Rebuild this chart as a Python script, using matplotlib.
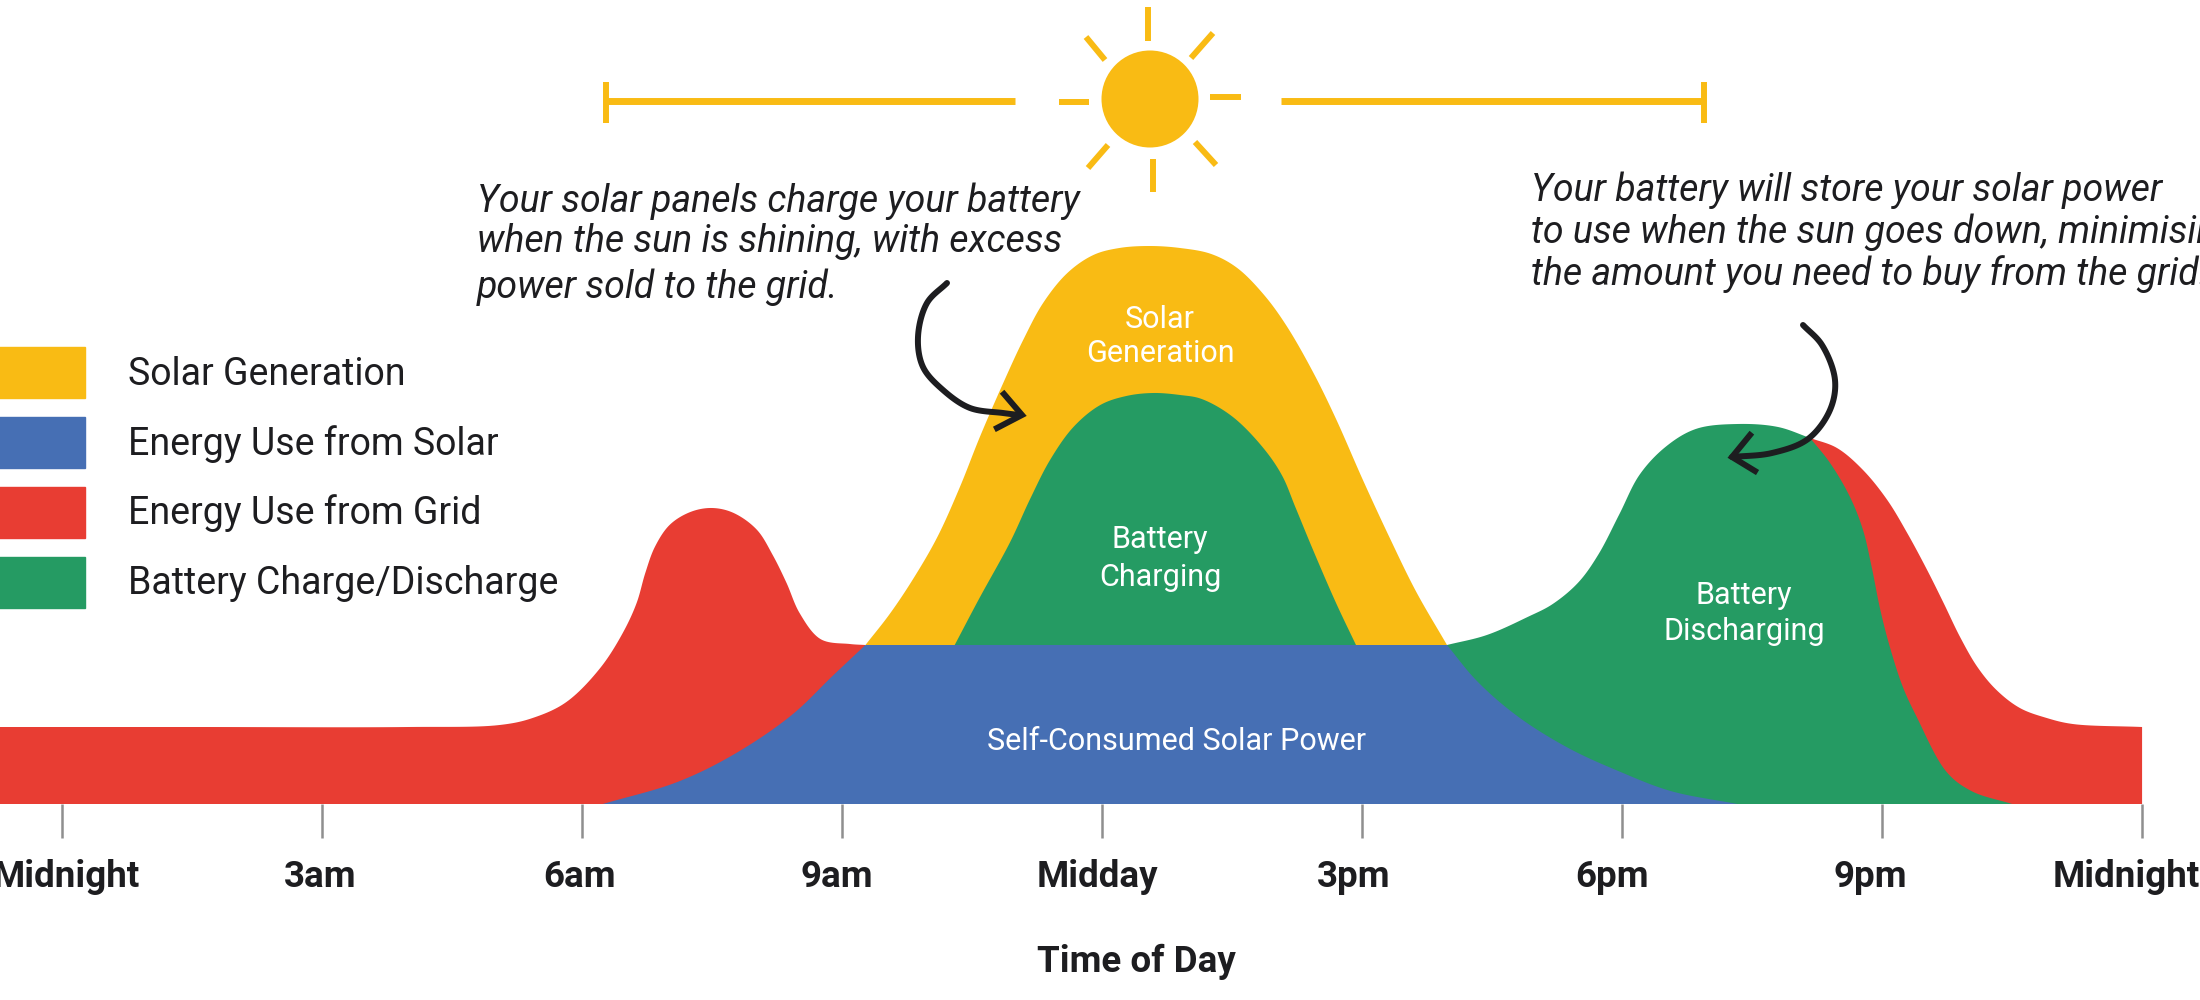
import numpy as np
import matplotlib
matplotlib.use('Agg')
import matplotlib.pyplot as plt
from matplotlib.patches import Circle, Patch
from matplotlib.transforms import ScaledTranslation

plt.rcParams['font.family'] = ['Roboto', 'DejaVu Sans']

################# values, hour of day vs power #########################

grid_am_h = [-1, 1.5, 4.0, 5.05, 5.43, 5.82, 6.21, 6.47, 6.63, 6.73, 6.84, 7.01, 7.25, 7.50, 7.75, 8.02, 8.20, 8.36, 8.51, 8.75, 9.09, 9.27]
grid_am_kw = [0.77, 0.77, 0.77, 0.79, 0.86, 1.02, 1.36, 1.71, 2.01, 2.31, 2.57, 2.79, 2.92, 2.96, 2.91, 2.74, 2.49, 2.21, 1.91, 1.65, 1.60, 1.59]

solar_up_h = [6.24, 7.10, 7.76, 8.42, 8.89, 9.27]
solar_up_kw = [0.0, 0.22, 0.50, 0.89, 1.28, 1.59]
solar_down_h = [15.98, 16.32, 16.79, 17.38, 17.97, 18.56, 19.33]
solar_down_kw = [1.59, 1.235, 0.88, 0.56, 0.325, 0.13, 0.0]

gen_h = [9.27, 9.55, 9.82, 10.10, 10.36, 10.59, 10.86, 11.09, 11.32, 11.60, 11.90, 12.20, 12.55, 12.90, 13.26, 13.56, 13.87, 14.13, 14.44, 14.70, 15.01, 15.32, 15.62, 15.98]
gen_kw = [1.59, 1.90, 2.25, 2.67, 3.17, 3.67, 4.21, 4.64, 5.01, 5.31, 5.49, 5.56, 5.58, 5.56, 5.50, 5.36, 5.09, 4.78, 4.31, 3.85, 3.24, 2.66, 2.13, 1.59]

charge_h = [10.30, 10.58, 10.94, 11.17, 11.40, 11.67, 11.98, 12.28, 12.59, 12.90, 13.15, 13.51, 13.87, 14.08, 14.23, 14.43, 14.70, 14.93]
charge_kw = [1.59, 2.05, 2.62, 3.05, 3.44, 3.77, 3.99, 4.08, 4.11, 4.09, 4.05, 3.87, 3.55, 3.28, 2.97, 2.55, 2.01, 1.59]

discharge_h = [15.98, 16.44, 16.91, 17.20, 17.50, 17.73, 17.97, 18.20, 18.50, 18.85, 19.33, 19.80, 20.17]
discharge_kw = [1.59, 1.69, 1.87, 2.00, 2.22, 2.50, 2.90, 3.29, 3.57, 3.75, 3.80, 3.77, 3.66]
discharge_end_h = [20.17, 20.40, 20.63, 20.78, 20.88, 20.98, 21.09, 21.24, 21.40, 21.74, 22.03, 22.50]
discharge_end_kw = [3.66, 3.41, 3.07, 2.74, 2.37, 1.94, 1.57, 1.17, 0.87, 0.325, 0.13, 0.0]

grid_pm_h = [20.17, 20.48, 20.78, 21.06, 21.29, 21.52, 21.71, 21.90, 22.10, 22.32, 22.59, 22.90, 23.20, 24.0]
grid_pm_kw = [3.66, 3.56, 3.34, 3.04, 2.71, 2.34, 2.01, 1.67, 1.37, 1.14, 0.96, 0.86, 0.80, 0.77]

tick_hours = [0, 3, 6, 9, 12, 15, 18, 21, 24]
tick_names = ['Midnight', '3am', '6am', '9am', 'Midday', '3pm', '6pm', '9pm', 'Midnight']
tick_shift = [4, -2, -3, -5, -5, -8, -10, -12, -16]

legend_names = ['Solar Generation', 'Energy Use from Solar', 'Energy Use from Grid', 'Battery Charge/Discharge']

YELLOW = '#F9BB14'
BLUE = '#466FB4'
RED = '#E83D33'
GREEN = '#259B63'
INK = '#1d1d20'


# centripetal hermite spline through the read points, so the humps stay round
def smooth(xs, ys, n=14):
    p = np.column_stack([xs, ys]).astype(float)
    t = np.r_[0, np.cumsum(np.hypot(*np.diff(p, axis=0).T) ** 0.5)]
    m = np.gradient(p, t, axis=0, edge_order=1)
    out = []
    for i in range(len(p) - 1):
        d = t[i + 1] - t[i]
        s = np.linspace(0, 1, n, endpoint=False)[:, None]
        out.append((2 * s ** 3 - 3 * s ** 2 + 1) * p[i] + (s ** 3 - 2 * s ** 2 + s) * d * m[i]
                   + (-2 * s ** 3 + 3 * s ** 2) * p[i + 1] + (s ** 3 - s ** 2) * d * m[i + 1])
    out.append(p[-1][None, :])
    return np.vstack(out)


fig = plt.figure(figsize=(22, 10), dpi=100)
ax = fig.add_axes([0, 0, 1, 1])
ax.set_xlim((0 - 62) / 86.67, (2200 - 62) / 86.67)
ax.set_ylim(-1.96, 8.04)
for s in ['top', 'left', 'right', 'bottom']:
    ax.spines[s].set_visible(False)
ax.spines['bottom'].set_position(('data', 0))
ax.patch.set_visible(False)
ax.set_yticks([])

# areas, back to front
curve = smooth(grid_am_h, grid_am_kw)
ax.fill(np.r_[curve[:, 0], curve[-1, 0], curve[0, 0]], np.r_[curve[:, 1], 0, 0], color=RED, lw=0)

curve = smooth(grid_pm_h, grid_pm_kw)
ax.fill(np.r_[curve[:, 0], curve[-1, 0], curve[0, 0]], np.r_[curve[:, 1], 0, 0], color=RED, lw=0)

curve = smooth(gen_h, gen_kw)
ax.fill(curve[:, 0], curve[:, 1], color=YELLOW, lw=0)

curve = smooth(charge_h, charge_kw)
ax.fill(curve[:, 0], curve[:, 1], color=GREEN, lw=0)

top = smooth(discharge_h, discharge_kw)
end = smooth(discharge_end_h, discharge_end_kw)
ax.fill(np.r_[top[:, 0], end[:, 0], top[0, 0]], np.r_[top[:, 1], end[:, 1], 0], color=GREEN, lw=0)

up = smooth(solar_up_h, solar_up_kw)
down = smooth(solar_down_h, solar_down_kw)
ax.fill(np.r_[up[:, 0], down[:, 0]], np.r_[up[:, 1], down[:, 1]], color=BLUE, lw=0)

# ticks hang below the zero line
ax.set_xticks(tick_hours)
ax.set_xticklabels(tick_names, fontsize=26.5, fontweight='bold', color=INK)
ax.tick_params(axis='x', length=24.5, width=1.8, color='#8f8f8f', pad=15)
for lab, dx in zip(ax.get_xticklabels(), tick_shift):
    lab.set_transform(lab.get_transform() + ScaledTranslation(dx / 100, 0, fig.dpi_scale_trans))
ax.set_xlabel('Time of Day', fontsize=26.5, fontweight='bold', color=INK)
ax.xaxis.set_label_coords(1136 / 2200, 1 - 962 / 1000)
ax.xaxis.label.set_va('center')

handles = [Patch(color=c) for c in [YELLOW, BLUE, RED, GREEN]]
fs = 27
ax.legend(handles, legend_names, loc='upper left', frameon=False,
          bbox_to_anchor=(-5 / 2200, 1 - 347 / 1000), bbox_transform=fig.transFigure,
          fontsize=fs, borderpad=0, borderaxespad=0, labelcolor=INK,
          handlelength=64.8 / fs, handleheight=1.72, handletextpad=1.15, labelspacing=0.5)

# overlay in canvas units for the sun, the notes and the arrows
deco = fig.add_axes([0, 0, 1, 1])
deco.set_xlim(0, 2200)
deco.set_ylim(1000, 0)
deco.axis('off')

deco.add_patch(Circle((1150, 99), 48.5, color=YELLOW, lw=0))
rays = [((1148, 7), (1148, 41)), ((1191, 58), (1213, 33)), ((1105, 60), (1086, 37)),
        ((1195, 142), (1216, 165)), ((1108, 145), (1088, 168)), ((1153, 159), (1153, 192)),
        ((1059, 102), (1089, 102)), ((1210, 97), (1241, 97))]
for a, b in rays:
    deco.plot([a[0], b[0]], [a[1], b[1]], color=YELLOW, lw=4.3, solid_capstyle='butt')

for x0, x1 in [(606, 1015), (1281, 1704)]:
    deco.plot([x0, x1], [101, 101], color=YELLOW, lw=5, solid_capstyle='butt')
for x in [606, 1704]:
    deco.plot([x, x], [82, 123], color=YELLOW, lw=4.3, solid_capstyle='butt')

note_font = dict(fontsize=27, style='italic', color=INK, va='center', ha='left', clip_on=False)
for y, line in zip([201, 241, 287], ['Your solar panels charge your battery',
                                     'when the sun is shining, with excess',
                                     'power sold to the grid.']):
    deco.text(477, y, line, **note_font)
for y, line in zip([190, 232, 274], ['Your battery will store your solar power',
                                     'to use when the sun goes down, minimising',
                                     'the amount you need to buy from the grid.']):
    deco.text(1531, y, line, **note_font)

inner = dict(fontsize=22, color='white', ha='center', va='center')
deco.text(1160, 319, 'Solar', **inner)
deco.text(1160, 354, 'Generation', **inner)
deco.text(1160, 539, 'Battery', **inner)
deco.text(1160, 577, 'Charging', **inner)
deco.text(1177, 742, 'Self-Consumed Solar Power', **inner)
deco.text(1744, 595, 'Battery', **inner)
deco.text(1744, 632, 'Discharging', **inner)

# hand drawn arrows
left_arrow = smooth([947, 927, 918, 923, 943, 970, 1003, 1019], [283, 303, 337, 367, 390, 408, 413, 415])
right_arrow = smooth([1803, 1822, 1835, 1830, 1808, 1772, 1732], [325, 345, 380, 410, 439, 453, 457])
deco.plot(left_arrow[:, 0], left_arrow[:, 1], color=INK, lw=4.3, solid_capstyle='round')
deco.plot([1004, 1022, 997], [394, 415, 428], color=INK, lw=4.3, solid_joinstyle='miter')
deco.plot(right_arrow[:, 0], right_arrow[:, 1], color=INK, lw=4.3, solid_capstyle='round')
deco.plot([1750, 1732, 1755], [435, 457, 471], color=INK, lw=4.3, solid_joinstyle='miter')

fig.savefig('out.png', dpi=100)
